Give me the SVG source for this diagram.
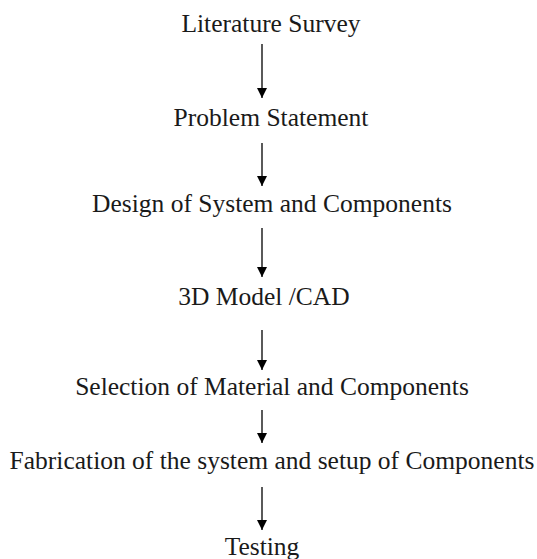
<svg xmlns="http://www.w3.org/2000/svg" width="537" height="559" viewBox="0 0 537 559">
<style>
text{font-family:"Liberation Serif","Times New Roman",serif;font-size:25.5px;fill:#1a1a1a;text-anchor:middle}
.c line{stroke:#000;stroke-width:1.3}
</style>
<defs>
<marker id="ah" viewBox="0 0 10 10" refX="10" refY="5" markerWidth="10" markerHeight="10" markerUnits="userSpaceOnUse" orient="auto">
<path d="M0,0 L10,5 L0,10 z" fill="#000"/>
</marker>
</defs>
<rect width="537" height="559" fill="#fff"/>
<g id="n1"><text x="271" y="31.5">Literature Survey</text></g>
<g id="n2"><text x="271" y="125.5">Problem Statement</text></g>
<g id="n3"><text x="272" y="211.5">Design of System and Components</text></g>
<g id="n4"><text x="264" y="304.5">3D Model /CAD</text></g>
<g id="n5"><text x="272" y="394.5">Selection of Material and Components</text></g>
<g id="n6"><text x="272" y="468.5">Fabrication of the system and setup of Components</text></g>
<g id="n7"><text x="262" y="554.5">Testing</text></g>
<g class="c" id="connectors">
<line x1="262" y1="44" x2="262" y2="98" marker-end="url(#ah)"/>
<line x1="262" y1="143" x2="262" y2="186" marker-end="url(#ah)"/>
<line x1="262" y1="228" x2="262" y2="277" marker-end="url(#ah)"/>
<line x1="262" y1="330" x2="262" y2="370" marker-end="url(#ah)"/>
<line x1="262" y1="410" x2="262" y2="443" marker-end="url(#ah)"/>
<line x1="262" y1="487" x2="262" y2="530" marker-end="url(#ah)"/>
</g>
</svg>
